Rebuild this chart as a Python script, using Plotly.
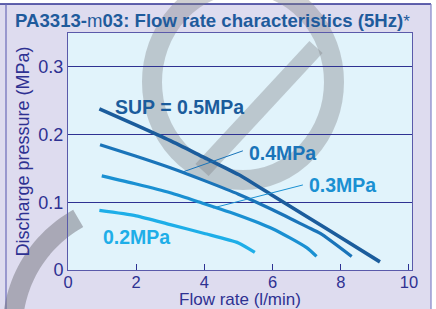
import math
import plotly.graph_objects as go

# ---------------- data ----------------
flow_05 = [0.92, 2, 3, 4, 5, 6, 7, 8, 9.15]
pres_05 = [0.238, 0.214, 0.191, 0.166, 0.141, 0.110, 0.079, 0.048, 0.012]

flow_04 = [0.94, 2, 3, 4, 5, 6, 7, 7.4, 8.32]
pres_04 = [0.185, 0.168, 0.151, 0.132, 0.112, 0.089, 0.064, 0.054, 0.020]

flow_03 = [0.99, 2, 3, 3.87, 5, 6, 7, 7.29]
pres_03 = [0.139, 0.127, 0.114, 0.100, 0.081, 0.061, 0.033, 0.020]

flow_02 = [0.92, 2, 3, 4, 5, 5.48]
pres_02 = [0.088, 0.080, 0.067, 0.054, 0.040, 0.026]

series_names = ["SUP = 0.5MPa", "0.4MPa", "0.3MPa", "0.2MPa"]
label_x = [1.32, 5.25, 7.0, 0.97]
label_y = [0.241, 0.173, 0.125, 0.049]

leader_04_x = [3.38, 5.13]
leader_04_y = [0.145, 0.176]
leader_03_x = [4.25, 6.89]
leader_03_y = [0.0916, 0.1256]

x_ticks = [0, 2, 4, 6, 8, 10]
x_ticktext = ["0", "2", "4", "6", "8", "10"]
y_ticks = [0, 0.1, 0.2, 0.3]
y_ticktext = ["0", "0.1", "0.2", "0.3"]

title_text = ("<b>PA3313-</b>m<b>03: Flow rate characteristics (5Hz)</b>"
              "<span style='font-size:17px'>*</span>")
x_title = "Flow rate (l/min)"
y_title = "Discharge pressure (MPa)"

# ---------------- style ----------------
W, H = 436, 309
ML, MR, MT, MB = 68, 24, 33, 39
PW, PH = W - ML - MR, H - MT - MB
NAVY = "#2e3192"
FRAME = "#5a5aaa"
LAV = "#dedcef"
PLOTBG = "#e1f3fb"
colors = ["#1b5c9c", "#1a74b9", "#1a90d2", "#1eaee8"]
widths = [3.6, 3.2, 3.2, 3.2]
FONT = "Liberation Sans, Arial, sans-serif"

fig = go.Figure()
series = [(flow_05, pres_05), (flow_04, pres_04), (flow_03, pres_03), (flow_02, pres_02)]
for (fx, fy), c, w, n in zip(series, colors, widths, series_names):
    fig.add_trace(go.Scatter(x=fx, y=fy, mode="lines", name=n,
                             line=dict(color=c, width=w, shape="spline", smoothing=0.6),
                             hoverinfo="skip"))
for lx, ly, c in [(leader_04_x, leader_04_y, colors[1]), (leader_03_x, leader_03_y, colors[2])]:
    fig.add_trace(go.Scatter(x=lx, y=ly, mode="lines", line=dict(color=c, width=1),
                             hoverinfo="skip"))

for t, x, y, c in zip(series_names, label_x, label_y, colors):
    fig.add_annotation(x=x, y=y, text="<b>" + t + "</b>", showarrow=False,
                       xanchor="left", yanchor="middle",
                       font=dict(family=FONT, size=19.5, color=c))

# ---------------- decoration (watermark + frame) ----------------
def px(x, y):
    return (x - ML) / PW, (H - MB - y) / PH

shapes = []
# white strips outside frame
x0, y0 = px(0, -2); x1, y1 = px(W + 2, 4)
shapes.append(dict(type="rect", xref="paper", yref="paper", x0=x0, y0=y0, x1=x1, y1=y1,
                   fillcolor="white", line=dict(width=0), layer="below"))
x0, y0 = px(431, -2); x1, y1 = px(W + 2, H + 2)
shapes.append(dict(type="rect", xref="paper", yref="paper", x0=x0, y0=y0, x1=x1, y1=y1,
                   fillcolor="white", line=dict(width=0), layer="below"))
# frame lines
for (ax, ay, bx, by, col, lw) in [(0, 4, 431, 4, NAVY, 1.5), (6, 4, 6, H + 2, "#6a6ab8", 1.2),
                                  (431, 4, 431, H + 2, "#8484c8", 1.2)]:
    a = px(ax, ay); b = px(bx, by)
    shapes.append(dict(type="line", xref="paper", yref="paper", x0=a[0], y0=a[1], x1=b[0], y1=b[1],
                       line=dict(color=col, width=lw), layer="below"))
# watermark ring
WM = "rgba(127,130,134,0.38)"
a = px(243 - 91, 82 - 98); b = px(243 + 91, 82 + 98)
shapes.append(dict(type="circle", xref="paper", yref="paper", x0=a[0], y0=b[1], x1=b[0], y1=a[1],
                   line=dict(color=WM, width=20), layer="below"))
a = px(202, 170); b = px(316, 47)
shapes.append(dict(type="line", xref="paper", yref="paper", x0=a[0], y0=a[1], x1=b[0], y1=b[1],
                   line=dict(color=WM, width=18), layer="below"))
# watermark arc bottom-left
pts = []
for i in range(31):
    th = math.radians(178 + (241 - 178) * i / 30)
    pts.append(px(140 + 127.5 * math.cos(th), 330 + 127.5 * math.sin(th)))
path = "M " + " L ".join(f"{p[0]:.4f},{p[1]:.4f}" for p in pts)
shapes.append(dict(type="path", xref="paper", yref="paper", path=path,
                   line=dict(color="rgba(116,116,125,0.50)", width=20), layer="below"))

fig.update_layout(
    width=W, height=H,
    margin=dict(l=ML, r=MR, t=MT, b=MB, pad=0),
    paper_bgcolor=LAV, plot_bgcolor=PLOTBG,
    showlegend=False,
    font=dict(family=FONT, color=NAVY),
    shapes=shapes,
    title=dict(text=title_text, x=15 / W, xanchor="left", xref="container",
               y=1 - 20 / H, yanchor="middle", yref="container",
               font=dict(family=FONT, size=18.6, color="#1f5b9c")),
)
fig.update_xaxes(range=[0, 10.09], tickvals=x_ticks, ticktext=x_ticktext,
                 ticks="inside", ticklen=6, tickcolor=NAVY, tickwidth=1,
                 ticklabelstandoff=-3,
                 showgrid=False, zeroline=False,
                 showline=True, linecolor=FRAME, linewidth=1, mirror=True,
                 tickfont=dict(size=16.5, color=NAVY),
                 title=dict(text=x_title, font=dict(size=17, color=NAVY), standoff=6),
                 automargin=False)
fig.update_yaxes(range=[0, 0.35], tickvals=y_ticks, ticktext=y_ticktext,
                 ticks="", showgrid=True, gridcolor=NAVY, gridwidth=1,
                 zeroline=False,
                 showline=True, linecolor=FRAME, linewidth=1, mirror=True,
                 tickfont=dict(size=18, color=NAVY),
                 title=dict(text=y_title, font=dict(size=18, color=NAVY), standoff=4),
                 automargin=False)

fig.write_html("out.html", config={"displayModeBar": False},
               post_script="document.body.style.margin='0px';document.body.style.overflow='hidden';")
